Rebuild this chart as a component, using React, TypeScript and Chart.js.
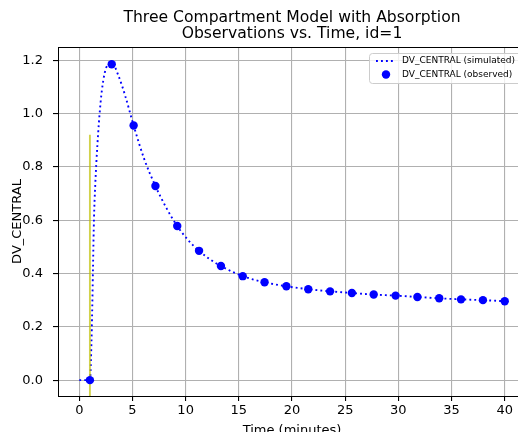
import React, { useEffect, useRef } from "react";
import { Chart, registerables } from "chart.js";

Chart.register(...registerables);

// Simulated central compartment concentration (dose at t = 1 min)
const simTime = [
  0, 1, 1.06, 1.13, 1.22, 1.29, 1.38, 1.5, 1.7, 2.0, 2.26, 2.5, 2.8, 3.05, 3.7, 4.33,
  5.11, 6.1, 7.16, 8.2, 9.21, 10.2, 11.26, 12.3, 13.32, 15.37, 17.42, 19.47, 21.53,
  23.58, 25.63, 27.68, 29.74, 31.79, 33.84, 35.89, 37.95, 40.0,
];
const simValue = [
  0, 0, 0.03, 0.12, 0.27, 0.42, 0.6, 0.73, 0.88, 1.04, 1.125, 1.168, 1.188, 1.19, 1.14, 1.065,
  0.955, 0.83, 0.728, 0.645, 0.578, 0.527, 0.485, 0.453, 0.428, 0.39, 0.367, 0.352, 0.341,
  0.333, 0.327, 0.321, 0.317, 0.312, 0.307, 0.303, 0.3, 0.296,
];

// Observed samples
const obsTime = [
  1, 3.05, 5.11, 7.16, 9.21, 11.26, 13.32, 15.37, 17.42, 19.47, 21.53, 23.58, 25.63,
  27.68, 29.74, 31.79, 33.84, 35.89, 37.95, 40,
];
const obsValue = [
  0.0, 1.185, 0.955, 0.728, 0.578, 0.485, 0.428, 0.39, 0.367, 0.352, 0.341, 0.333, 0.327,
  0.321, 0.317, 0.312, 0.307, 0.303, 0.3, 0.296,
];

// Dose marker
const doseTime = 1;
const doseTop = 0.92;

const titleLines = ["Three Compartment Model with Absorption", "Observations vs. Time, id=1"];
const xLabel = "Time (minutes)";
const yLabel = "DV_CENTRAL";
const legendLabels = ["DV_CENTRAL (simulated)", "DV_CENTRAL (observed)"];

const X_MIN = -2;
const X_MAX = 42;
const Y_MIN = -0.0595;
const Y_MAX = 1.2495;

const FONT = "'DejaVu Sans', sans-serif";
const LW = 1.875;
const DOTS = [1.875, 3.1];

const decorations = {
  id: "decorations",
  afterDraw(chart: any) {
    const { ctx, chartArea } = chart;
    const { left, right, top, bottom } = chartArea;
    ctx.save();

    // top and right spines
    ctx.strokeStyle = "#000";
    ctx.lineWidth = 1;
    ctx.beginPath();
    ctx.moveTo(left, Math.round(top) + 0.5);
    ctx.lineTo(right, Math.round(top) + 0.5);
    ctx.moveTo(Math.round(right) - 0.5, top);
    ctx.lineTo(Math.round(right) - 0.5, bottom);
    ctx.stroke();

    const cx = (left + right) / 2;
    ctx.fillStyle = "#000";
    ctx.textAlign = "center";
    ctx.textBaseline = "middle";
    ctx.font = `15.6px ${FONT}`;
    ctx.fillText(titleLines[0], cx, 18);
    ctx.fillText(titleLines[1], cx, 34);

    ctx.font = `13px ${FONT}`;
    ctx.fillText(xLabel, cx, 430.5);
    ctx.save();
    ctx.translate(17.5, (top + bottom) / 2);
    ctx.rotate(-Math.PI / 2);
    ctx.fillText(yLabel, 0, 0);
    ctx.restore();

    // legend
    const bx = 369.5;
    const by = 53.5;
    const bw = 200;
    const bh = 30;
    const r = 3;
    ctx.beginPath();
    ctx.moveTo(bx + r, by);
    ctx.lineTo(bx + bw - r, by);
    ctx.arcTo(bx + bw, by, bx + bw, by + r, r);
    ctx.lineTo(bx + bw, by + bh - r);
    ctx.arcTo(bx + bw, by + bh, bx + bw - r, by + bh, r);
    ctx.lineTo(bx + r, by + bh);
    ctx.arcTo(bx, by + bh, bx, by + bh - r, r);
    ctx.lineTo(bx, by + r);
    ctx.arcTo(bx, by, bx + r, by, r);
    ctx.closePath();
    ctx.fillStyle = "rgba(255,255,255,0.8)";
    ctx.fill();
    ctx.strokeStyle = "#cccccc";
    ctx.lineWidth = 1;
    ctx.stroke();

    const row1 = 61;
    const row2 = 74.5;
    ctx.strokeStyle = "blue";
    ctx.lineWidth = LW;
    ctx.setLineDash(DOTS);
    ctx.beginPath();
    ctx.moveTo(376, row1);
    ctx.lineTo(393, row1);
    ctx.stroke();
    ctx.setLineDash([]);
    ctx.fillStyle = "blue";
    ctx.beginPath();
    ctx.arc(386, row2, 4.2, 0, Math.PI * 2);
    ctx.fill();

    ctx.fillStyle = "#000";
    ctx.textAlign = "left";
    ctx.font = `9px ${FONT}`;
    ctx.fillText(legendLabels[0], 402, row1);
    ctx.fillText(legendLabels[1], 402, row2);

    ctx.restore();
  },
};

export default function App() {
  const ref = useRef<HTMLCanvasElement | null>(null);

  useEffect(() => {
    if (!ref.current) return;
    const chart = new Chart(ref.current, {
      type: "scatter",
      data: {
        datasets: [
          {
            label: legendLabels[0],
            data: simTime.map((t, i) => ({ x: t, y: simValue[i] })),
            showLine: true,
            borderColor: "blue",
            borderWidth: LW,
            borderDash: DOTS,
            borderCapStyle: "butt",
            pointRadius: 0,
            cubicInterpolationMode: "monotone",
            order: 3,
          },
          {
            label: "dose",
            data: [
              { x: doseTime, y: Y_MIN },
              { x: doseTime, y: doseTop },
            ],
            showLine: true,
            borderColor: "rgba(191,191,0,0.7)",
            borderWidth: LW,
            pointRadius: 0,
            order: 2,
          },
          {
            label: legendLabels[1],
            data: obsTime.map((t, i) => ({ x: t, y: obsValue[i] })),
            showLine: false,
            backgroundColor: "blue",
            borderColor: "blue",
            borderWidth: 0,
            pointRadius: 4.2,
            order: 1,
          },
        ],
      },
      options: {
        responsive: false,
        animation: false,
        layout: { padding: { top: 47, right: 50, left: 0, bottom: 0 } },
        plugins: {
          legend: { display: false },
          title: { display: false },
          tooltip: { enabled: false },
        },
        scales: {
          x: {
            type: "linear",
            min: X_MIN,
            max: X_MAX,
            afterFit: (s: any) => {
              s.height = 36;
            },
            ticks: {
              stepSize: 5,
              includeBounds: false,
              color: "#000",
              font: { family: FONT, size: 13 },
              padding: 2,
              maxRotation: 0,
            },
            grid: { color: "#b0b0b0", lineWidth: 1.1, tickColor: "#000", tickLength: 5 },
            border: { color: "#000", width: 1 },
          },
          y: {
            type: "linear",
            min: Y_MIN,
            max: Y_MAX,
            afterFit: (s: any) => {
              s.width = 58;
            },
            ticks: {
              stepSize: 0.2,
              includeBounds: false,
              color: "#000",
              font: { family: FONT, size: 13 },
              padding: 10,
              callback: (v: any) => Number(v).toFixed(1),
            },
            grid: { color: "#b0b0b0", lineWidth: 1.1, tickColor: "#000", tickLength: 5 },
            border: { color: "#000", width: 1 },
          },
        },
      },
      plugins: [decorations],
    });
    return () => chart.destroy();
  }, []);

  return (
    <div
      style={{
        position: "fixed",
        left: 0,
        top: 0,
        width: 518,
        height: 432,
        overflow: "hidden",
        background: "#fff",
      }}
    >
      <canvas ref={ref} width={576} height={432} style={{ width: 576, height: 432, display: "block" }} />
    </div>
  );
}
